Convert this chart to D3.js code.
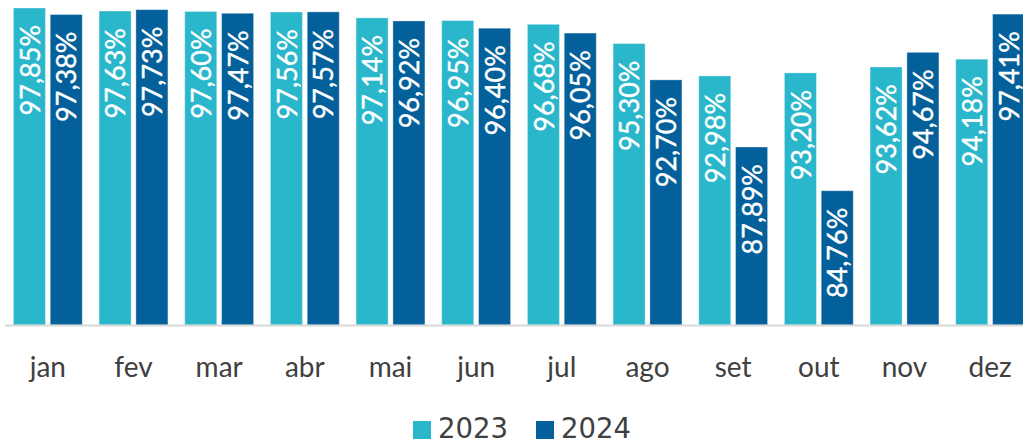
<!DOCTYPE html>
<html><head><meta charset="utf-8">
<script src="https://cdn.jsdelivr.net/npm/d3@7"></script>
<style>body{margin:0;background:#fff;}svg{display:block;}</style>
</head><body>
<svg id="c" width="1023" height="444"></svg>
<script>
const months = ["jan","fev","mar","abr","mai","jun","jul","ago","set","out","nov","dez"];
const series = ["2023","2024"];
const v2023 = [97.85,97.63,97.60,97.56,97.14,96.95,96.68,95.30,92.98,93.20,93.62,94.18];
const v2024 = [97.38,97.73,97.47,97.57,96.92,96.40,96.05,92.70,87.89,84.76,94.67,97.41];
const colors = ["#2AB7CB","#03609A"];

const svg = d3.select("#c");
const x = d3.scaleBand().domain(months).range([5, 1033]).paddingInner(0).paddingOuter(0);
const xs = d3.scaleBand().domain(series).range([8.4, x.bandwidth()-8.4]).paddingInner(0.13);
const y = d3.scaleLinear().domain([75.14, 98.42]).range([325, 0]);

const data = months.map((m,i)=>({m, vals:[v2023[i], v2024[i]]}));
const g = svg.selectAll("g.m").data(data).join("g").attr("transform", d=>`translate(${x(d.m)},0)`);
g.selectAll("rect").data(d=>d.vals.map((v,j)=>({v,s:series[j],j}))).join("rect")
  .attr("x", d=>xs(d.s)).attr("width", xs.bandwidth())
  .attr("y", d=>y(d.v)).attr("height", d=>y.range()[0]-y(d.v))
  .attr("fill", d=>colors[d.j]).attr("stroke","rgba(255,255,255,0.35)").attr("stroke-width",1);
g.selectAll("text.v").data(d=>d.vals.map((v,j)=>({v,s:series[j],j}))).join("text")
  .attr("class","v")
  .attr("transform", d=>`translate(${xs(d.s)+xs.bandwidth()/2+0.5},${y(d.v)+17}) rotate(-90)`)
  .attr("text-anchor","end").attr("dy","0.36em")
  .attr("fill","#fff").attr("stroke","#fff").attr("stroke-width",0.4)
  .attr("font-family","Lato").attr("font-size",27)
  .text(d=>d.v.toFixed(2).replace(".",",")+"%");

svg.append("line").attr("x1",5).attr("x2",1023).attr("y1",325.5).attr("y2",325.5)
  .attr("stroke","#d9d9d9").attr("stroke-width",2);

const xa = svg.append("g").attr("transform","translate(0,325)")
  .call(d3.axisBottom(x).tickSize(0).tickPadding(32));
xa.select(".domain").remove();
xa.selectAll("text").attr("font-family","Lato").attr("font-size",28).attr("fill","#404040");

const leg = svg.append("g");
const lx = [413, 536];
series.forEach((s,i)=>{
  leg.append("rect").attr("x",lx[i]).attr("y",421).attr("width",18).attr("height",18).attr("fill",colors[i]);
  leg.append("text").attr("x",lx[i]+25).attr("y",437.5).attr("font-family","DejaVu Sans")
    .attr("font-size",27.5).attr("fill","#404040").text(s);
});
</script>
</body></html>
